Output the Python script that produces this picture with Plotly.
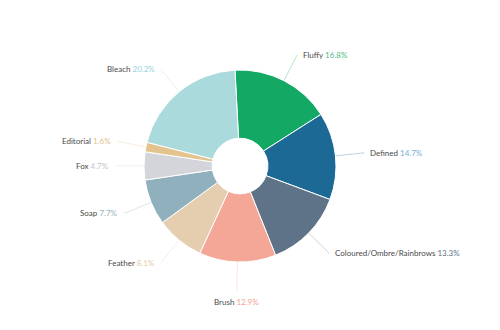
import math
import plotly.graph_objects as go

labels = ["Fluffy", "Defined", "Coloured/Ombre/Rainbrows", "Brush", "Feather",
          "Soap", "Fox", "Editorial", "Bleach"]
values = [16.8, 14.7, 13.3, 12.9, 8.1, 7.7, 4.7, 1.6, 20.2]
slice_colors = ["#13a863", "#1d6996", "#5e7387", "#f4a796", "#e5cdb0",
                "#8fb0bc", "#d3d5db", "#e4c48e", "#abdadc"]
pct_colors = ["#4dbb80", "#78b0dc", "#5e7387", "#f2a290", "#e6c9a8",
              "#98b2bd", "#c2c5cc", "#e2bf88", "#98d2d6"]

W, H = 500, 330
CX, CY, R = 240, 166, 96
HOLE = 0.29
ROT = -3
LABEL_R = 125
TEXT_GAP = 4

fig = go.Figure(go.Pie(
    labels=labels, values=values, sort=False, direction="clockwise",
    rotation=ROT, hole=HOLE, textinfo="none", hoverinfo="label+percent",
    marker=dict(colors=slice_colors, line=dict(color="white", width=1)),
    domain=dict(x=[(CX - R) / W, (CX + R) / W],
                y=[1 - (CY + R) / H, 1 - (CY - R) / H]),
    showlegend=False,
))

total = sum(values)
cum = 0.0
shapes, annotations = [], []
for lab, v, sc, pc in zip(labels, values, slice_colors, pct_colors):
    mid = math.radians(ROT + (cum + v / 2) / total * 360)
    cum += v
    s, c = math.sin(mid), -math.cos(mid)
    x0, y0 = CX + R * s, CY + R * c
    x1, y1 = CX + LABEL_R * s, CY + LABEL_R * c
    shapes.append(dict(type="line", xref="paper", yref="paper",
                       x0=x0 / W, y0=1 - y0 / H, x1=x1 / W, y1=1 - y1 / H,
                       line=dict(color=sc, width=0.6), opacity=0.5, layer="below"))
    if abs(s) < 0.25:
        xa, ya = "center", ("top" if c > 0 else "bottom")
        tx, ty = x1, y1 + (TEXT_GAP if c > 0 else -TEXT_GAP)
    elif s > 0:
        xa, ya = "left", "middle"
        tx, ty = x1 + TEXT_GAP, y1
    else:
        xa, ya = "right", "middle"
        tx, ty = x1 - TEXT_GAP, y1
    annotations.append(dict(
        xref="paper", yref="paper", x=tx / W, y=1 - ty / H,
        xanchor=xa, yanchor=ya, showarrow=False,
        text=f"{lab} <span style='color:{pc}'>{v:.1f}%</span>",
        font=dict(family="Lato, sans-serif", size=8, color="#4a4a4a"),
    ))

fig.update_layout(
    width=W, height=H, margin=dict(l=0, r=0, t=0, b=0),
    paper_bgcolor="white", plot_bgcolor="white",
    shapes=shapes, annotations=annotations,
)
fig.write_html("out.html")
